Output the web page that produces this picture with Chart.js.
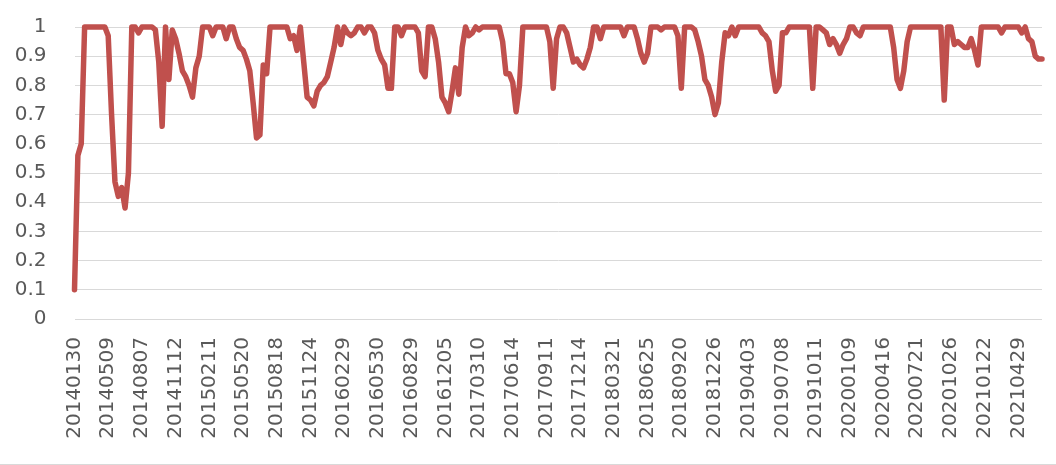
<!DOCTYPE html>
<html>
<head>
<meta charset="utf-8">
<script src="https://cdn.jsdelivr.net/npm/chart.js@4/dist/chart.umd.min.js"></script>
<style>
  html, body { margin: 0; padding: 0; background: #ffffff; }
  #wrap { position: relative; width: 1056px; height: 465px; }
</style>
</head>
<body>
<div id="wrap"><canvas id="c" width="1056" height="465"></canvas></div>
<script>
const tickLabels = [
  "20140130","20140509","20140807","20141112","20150211","20150520","20150818",
  "20151124","20160229","20160530","20160829","20161205","20170310","20170614",
  "20170911","20171214","20180321","20180625","20180920","20181226","20190403",
  "20190708","20191011","20200109","20200416","20200721","20201026","20210122",
  "20210429"
];
const POINTS_PER_TICK = 10;

const values = [
  0.10, 0.56, 0.60, 1.00, 1.00, 1.00, 1.00, 1.00, 1.00, 1.00,
  0.97, 0.70, 0.47, 0.42, 0.45, 0.38, 0.50, 1.00, 1.00, 0.98,
  1.00, 1.00, 1.00, 1.00, 0.99, 0.88, 0.66, 1.00, 0.82, 0.99,
  0.96, 0.91, 0.85, 0.83, 0.80, 0.76, 0.86, 0.90, 1.00, 1.00,
  1.00, 0.97, 1.00, 1.00, 1.00, 0.96, 1.00, 1.00, 0.96, 0.93,
  0.92, 0.89, 0.85, 0.74, 0.62, 0.63, 0.87, 0.84, 1.00, 1.00,
  1.00, 1.00, 1.00, 1.00, 0.96, 0.97, 0.92, 1.00, 0.88, 0.76,
  0.75, 0.73, 0.78, 0.80, 0.81, 0.83, 0.88, 0.93, 1.00, 0.94,
  1.00, 0.98, 0.97, 0.98, 1.00, 1.00, 0.98, 1.00, 1.00, 0.98,
  0.92, 0.89, 0.87, 0.79, 0.79, 1.00, 1.00, 0.97, 1.00, 1.00,
  1.00, 1.00, 0.98, 0.85, 0.83, 1.00, 1.00, 0.96, 0.88, 0.76,
  0.74, 0.71, 0.78, 0.86, 0.77, 0.93, 1.00, 0.97, 0.98, 1.00,
  0.99, 1.00, 1.00, 1.00, 1.00, 1.00, 1.00, 0.95, 0.84, 0.84,
  0.81, 0.71, 0.80, 1.00, 1.00, 1.00, 1.00, 1.00, 1.00, 1.00,
  1.00, 0.95, 0.79, 0.96, 1.00, 1.00, 0.98, 0.93, 0.88, 0.89,
  0.87, 0.86, 0.89, 0.93, 1.00, 1.00, 0.96, 1.00, 1.00, 1.00,
  1.00, 1.00, 1.00, 0.97, 1.00, 1.00, 1.00, 0.96, 0.91, 0.88,
  0.91, 1.00, 1.00, 1.00, 0.99, 1.00, 1.00, 1.00, 1.00, 0.97,
  0.79, 1.00, 1.00, 1.00, 0.99, 0.95, 0.90, 0.82, 0.80, 0.76,
  0.70, 0.74, 0.88, 0.98, 0.97, 1.00, 0.97, 1.00, 1.00, 1.00,
  1.00, 1.00, 1.00, 1.00, 0.98, 0.97, 0.95, 0.85, 0.78, 0.80,
  0.98, 0.98, 1.00, 1.00, 1.00, 1.00, 1.00, 1.00, 1.00, 0.79,
  1.00, 1.00, 0.99, 0.98, 0.94, 0.96, 0.94, 0.91, 0.94, 0.96,
  1.00, 1.00, 0.98, 0.97, 1.00, 1.00, 1.00, 1.00, 1.00, 1.00,
  1.00, 1.00, 1.00, 0.93, 0.82, 0.79, 0.85, 0.95, 1.00, 1.00,
  1.00, 1.00, 1.00, 1.00, 1.00, 1.00, 1.00, 1.00, 0.75, 1.00,
  1.00, 0.94, 0.95, 0.94, 0.93, 0.93, 0.96, 0.92, 0.87, 1.00,
  1.00, 1.00, 1.00, 1.00, 1.00, 0.98, 1.00, 1.00, 1.00, 1.00,
  1.00, 0.98, 1.00, 0.96, 0.95, 0.90, 0.89, 0.89
];

const yTicks = [0, 0.1, 0.2, 0.3, 0.4, 0.5, 0.6, 0.7, 0.8, 0.9, 1];

const categories = values.map((v, i) =>
  (i % POINTS_PER_TICK === 0 && tickLabels[i / POINTS_PER_TICK]) ? tickLabels[i / POINTS_PER_TICK] : ''
);

const TEXT = '#595959';
const GRID = '#d9d9d9';
const FONT = { family: '"DejaVu Sans", sans-serif', size: 20 };

function zeroPad(scale) {
  scale.paddingTop = 0;
  scale.paddingBottom = 0;
  scale.paddingLeft = 0;
  scale.paddingRight = 0;
}

const bottomFrame = {
  id: 'bottomFrame',
  afterDraw(chart) {
    const ctx = chart.ctx;
    ctx.save();
    ctx.strokeStyle = GRID;
    ctx.lineWidth = 1;
    ctx.beginPath();
    ctx.moveTo(0, chart.height - 0.5);
    ctx.lineTo(chart.width, chart.height - 0.5);
    ctx.stroke();
    ctx.restore();
  }
};

new Chart(document.getElementById('c'), {
  type: 'line',
  data: {
    labels: categories,
    datasets: [{
      data: values,
      borderColor: '#C0504D',
      backgroundColor: '#C0504D',
      borderWidth: 5.5,
      pointRadius: 0,
      tension: 0,
      borderJoinStyle: 'round',
      borderCapStyle: 'round',
      clip: false
    }]
  },
  options: {
    responsive: false,
    animation: false,
    devicePixelRatio: 1,
    layout: { padding: { top: 27, right: 14, bottom: 0, left: 0 } },
    plugins: { legend: { display: false }, tooltip: { enabled: false } },
    scales: {
      x: {
        type: 'category',
        offset: false,
        grid: { display: false, drawTicks: false },
        border: { display: false },
        ticks: {
          autoSkip: false,
          maxRotation: 90,
          minRotation: 90,
          padding: 18,
          color: TEXT,
          font: FONT,
          callback: function (val, idx) { return categories[idx]; }
        },
        afterFit(scale) { scale.height = 146; zeroPad(scale); }
      },
      y: {
        min: 0,
        max: 1,
        grid: { color: GRID, lineWidth: 1, drawTicks: false },
        border: { display: false },
        afterBuildTicks(scale) { scale.ticks = yTicks.map(v => ({ value: v })); },
        ticks: {
          padding: 28,
          color: TEXT,
          font: FONT,
          callback: v => String(Math.round(v * 10) / 10)
        },
        afterFit(scale) { scale.width = 74.5; zeroPad(scale); }
      }
    }
  },
  plugins: [bottomFrame]
});
</script>
</body>
</html>
